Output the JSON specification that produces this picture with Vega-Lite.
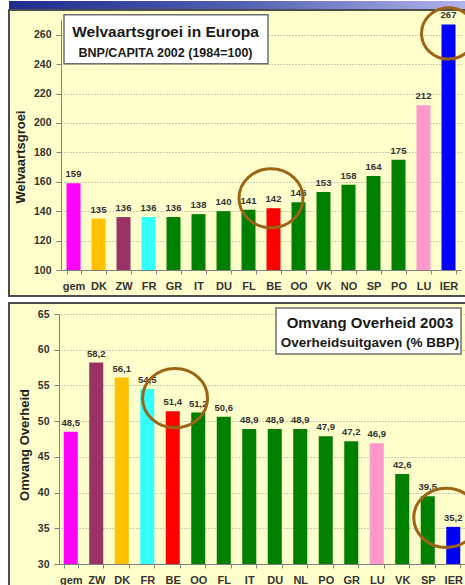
{
  "$schema": "https://vega.github.io/schema/vega-lite/v6.json",
  "background": "white",
  "padding": {"left": 8, "top": 0, "right": 0, "bottom": 0},
  "spacing": 1,
  "bounds": "flush",
  "config": {
    "font": "Liberation Sans",
    "locale": {"number": {"decimal": ",", "thousands": ".", "grouping": [3], "currency": ["€", ""]}},
    "view": {"stroke": null},
    "axis": {
      "labelFont": "Liberation Sans", "labelFontWeight": "bold", "labelColor": "#333333", "labelOverlap": false,
      "titleFont": "Liberation Sans", "titleFontWeight": "bold", "titleColor": "#222222", "titleFontSize": 13,
      "domainColor": "#808080", "tickColor": "#808080", "gridColor": "#9a9a9a", "gridDash": [1, 2], "gridWidth": 1
    }
  },
  "vconcat": [
    {
      "width": 460, "height": 8,
      "data": {"values": [{}]},
      "mark": {"type": "rect", "color": {"gradient": "linear", "x1": 0, "y1": 0, "x2": 1, "y2": 0,
        "stops": [{"offset": 0, "color": "#1E2D8C"}, {"offset": 0.5, "color": "#5060B0"}, {"offset": 1, "color": "#B4B4EC"}]}},
      "encoding": {}
    },
    {
      "spacing": 7,
      "bounds": "flush",
      "resolve": {"scale": {"x": "independent", "y": "independent", "color": "independent"}},
      "vconcat": [
        {
          "width": 460, "height": 286,
          "view": {"fill": "#FFFFCC", "stroke": "#4D4D4D", "strokeWidth": 2},
          "data": {"values": [
            {"land": "gem", "waarde": 159}, {"land": "DK", "waarde": 135}, {"land": "ZW", "waarde": 136},
            {"land": "FR", "waarde": 136}, {"land": "GR", "waarde": 136}, {"land": "IT", "waarde": 138},
            {"land": "DU", "waarde": 140}, {"land": "FL", "waarde": 141}, {"land": "BE", "waarde": 142},
            {"land": "OO", "waarde": 146}, {"land": "VK", "waarde": 153}, {"land": "NO", "waarde": 158},
            {"land": "SP", "waarde": 164}, {"land": "PO", "waarde": 175}, {"land": "LU", "waarde": 212},
            {"land": "IER", "waarde": 267}
          ]},
          "layer": [
            {
              "mark": {"type": "bar"},
              "encoding": {
                "x": {"field": "land", "type": "nominal", "sort": null,
                  "scale": {"domain": ["gem","DK","ZW","FR","GR","IT","DU","FL","BE","OO","VK","NO","SP","PO","LU","IER"],
                    "range": [52, 452], "paddingInner": 0.44, "paddingOuter": 0.22},
                  "axis": {"title": null, "labelAngle": 0, "labelFontSize": 11, "tickBand": "extent", "tickSize": 4,
                    "labelPadding": 6, "offset": -26, "grid": false}},
                "y": {"field": "waarde", "type": "quantitative",
                  "scale": {"domain": [100, 270], "range": [260, 10], "nice": false, "zero": false},
                  "axis": {"title": "Welvaartsgroei", "values": [100,120,140,160,180,200,220,240,260],
                    "labelOverlap": false, "labelSeparation": 0, "tickCount": 9,
                    "labelFontSize": 10.5, "tickSize": 5, "labelPadding": 5, "offset": -52, "grid": true,
                    "titlePadding": 6, "titleY": 146.5}},
                "y2": {"datum": 100},
                "color": {"field": "land", "type": "nominal", "legend": null,
                  "scale": {"domain": ["gem","DK","ZW","FR","GR","IT","DU","FL","BE","OO","VK","NO","SP","PO","LU","IER"],
                    "range": ["#FF00FF","#FFC000","#993366","#33FFFF","#008000","#008000","#008000","#008000","#FF0000","#008000","#008000","#008000","#008000","#008000","#FF99CC","#0000FF"]}}
              }
            },
            {
              "mark": {"type": "text", "baseline": "bottom", "dy": -4, "fontSize": 9.5, "fontWeight": "bold", "color": "#333333"},
              "encoding": {
                "x": {"field": "land", "type": "nominal", "sort": null},
                "y": {"field": "waarde", "type": "quantitative"},
                "text": {"field": "waarde", "type": "quantitative", "format": "d"}
              }
            },
            {
              "transform": [{"filter": "datum.land === 'BE'"}],
              "mark": {"type": "point", "shape": "M -1 0 A 1 0.92 0 1 1 1 0 A 1 0.92 0 1 1 -1 0 Z", "filled": false, "size": 4096,
                "color": "#9C6414", "strokeWidth": 3, "opacity": 1, "xOffset": -2.5, "yOffset": -10},
              "encoding": {"x": {"field": "land", "type": "nominal", "sort": null}, "y": {"field": "waarde", "type": "quantitative"}}
            },
            {
              "transform": [{"filter": "datum.land === 'IER'"}],
              "mark": {"type": "point", "shape": "M -1 0 A 1 0.95 0 1 1 1 0 A 1 0.95 0 1 1 -1 0 Z", "filled": false, "size": 2916,
                "color": "#9C6414", "strokeWidth": 3, "opacity": 1, "yOffset": 9},
              "encoding": {"x": {"field": "land", "type": "nominal", "sort": null}, "y": {"field": "waarde", "type": "quantitative"}}
            },
            {
              "data": {"values": [{}]},
              "mark": {"type": "rect", "fill": "white", "stroke": "#6E6E6E", "strokeWidth": 1.5, "xOffset": -2.5, "x2Offset": -5.5},
              "encoding": {
                "x": {"datum": "gem", "type": "nominal", "bandPosition": 0},
                "x2": {"datum": "BE"},
                "y": {"datum": 273.6, "type": "quantitative"},
                "y2": {"datum": 240.2}
              }
            },
            {
              "data": {"values": [{}]},
              "mark": {"type": "text", "text": "Welvaartsgroei in Europa", "fontSize": 15.5, "fontWeight": "bold", "color": "#1A1A1A", "xOffset": -8},
              "encoding": {"x": {"datum": "GR", "type": "nominal"}, "y": {"datum": 262, "type": "quantitative"}}
            },
            {
              "data": {"values": [{}]},
              "mark": {"type": "text", "text": "BNP/CAPITA 2002 (1984=100)", "fontSize": 12.5, "fontWeight": "bold", "color": "#1A1A1A", "xOffset": -8},
              "encoding": {"x": {"datum": "GR", "type": "nominal"}, "y": {"datum": 247.7, "type": "quantitative"}}
            }
          ]
        },
        {
          "width": 460, "height": 283,
          "view": {"fill": "#FFFFCC", "stroke": "#4D4D4D", "strokeWidth": 2},
          "data": {"values": [
            {"land": "gem", "waarde": 48.5}, {"land": "ZW", "waarde": 58.2}, {"land": "DK", "waarde": 56.1},
            {"land": "FR", "waarde": 54.5}, {"land": "BE", "waarde": 51.4}, {"land": "OO", "waarde": 51.2},
            {"land": "FL", "waarde": 50.6}, {"land": "IT", "waarde": 48.9}, {"land": "DU", "waarde": 48.9},
            {"land": "NL", "waarde": 48.9}, {"land": "PO", "waarde": 47.9}, {"land": "GR", "waarde": 47.2},
            {"land": "LU", "waarde": 46.9}, {"land": "VK", "waarde": 42.6}, {"land": "SP", "waarde": 39.5},
            {"land": "IER", "waarde": 35.2}
          ]},
          "layer": [
            {
              "mark": {"type": "bar"},
              "encoding": {
                "x": {"field": "land", "type": "nominal", "sort": null,
                  "scale": {"domain": ["gem","ZW","DK","FR","BE","OO","FL","IT","DU","NL","PO","GR","LU","VK","SP","IER"],
                    "range": [49, 457], "paddingInner": 0.45, "paddingOuter": 0.225},
                  "axis": {"title": null, "labelAngle": 0, "labelFontSize": 11, "tickBand": "extent", "tickSize": 4,
                    "labelPadding": 6, "offset": -22, "grid": false}},
                "y": {"field": "waarde", "type": "quantitative",
                  "scale": {"domain": [30, 65], "range": [261, 11], "nice": false, "zero": false},
                  "axis": {"title": "Omvang Overheid", "values": [30,35,40,45,50,55,60,65],
                    "labelOverlap": false, "labelSeparation": 0,
                    "labelFontSize": 10.5, "tickSize": 5, "labelPadding": 5, "offset": -50, "grid": true,
                    "titlePadding": 6, "titleY": 141.5}},
                "y2": {"datum": 30},
                "color": {"field": "land", "type": "nominal", "legend": null,
                  "scale": {"domain": ["gem","ZW","DK","FR","BE","OO","FL","IT","DU","NL","PO","GR","LU","VK","SP","IER"],
                    "range": ["#FF00FF","#993366","#FFC000","#33FFFF","#FF0000","#008000","#008000","#008000","#008000","#008000","#008000","#008000","#FF99CC","#008000","#008000","#0000FF"]}}
              }
            },
            {
              "mark": {"type": "text", "baseline": "bottom", "dy": -4, "fontSize": 9.5, "fontWeight": "bold", "color": "#333333"},
              "encoding": {
                "x": {"field": "land", "type": "nominal", "sort": null},
                "y": {"field": "waarde", "type": "quantitative"},
                "text": {"field": "waarde", "type": "quantitative", "format": ".1f"}
              }
            },
            {
              "transform": [{"filter": "datum.land === 'BE'"}],
              "mark": {"type": "point", "shape": "M -1 0 A 1 0.91 0 1 1 1 0 A 1 0.91 0 1 1 -1 0 Z", "filled": false, "size": 4225,
                "color": "#9C6414", "strokeWidth": 3, "opacity": 1, "xOffset": 2.3, "yOffset": -13},
              "encoding": {"x": {"field": "land", "type": "nominal", "sort": null}, "y": {"field": "waarde", "type": "quantitative"}}
            },
            {
              "transform": [{"filter": "datum.land === 'IER'"}],
              "mark": {"type": "point", "shape": "M -1 0 A 1 0.91 0 1 1 1 0 A 1 0.91 0 1 1 -1 0 Z", "filled": false, "size": 4225,
                "color": "#9C6414", "strokeWidth": 3, "opacity": 1, "xOffset": -7, "yOffset": -9},
              "encoding": {"x": {"field": "land", "type": "nominal", "sort": null}, "y": {"field": "waarde", "type": "quantitative"}}
            },
            {
              "data": {"values": [{}]},
              "mark": {"type": "rect", "fill": "white", "stroke": "#6E6E6E", "strokeWidth": 1.5, "xOffset": 8.3, "x2Offset": 7.8},
              "encoding": {
                "x": {"datum": "DU", "type": "nominal", "bandPosition": 0},
                "x2": {"datum": "IER"},
                "y": {"datum": 65.84, "type": "quantitative"},
                "y2": {"datum": 59.4}
              }
            },
            {
              "data": {"values": [{}]},
              "mark": {"type": "text", "text": "Omvang Overheid 2003", "fontSize": 15, "fontWeight": "bold", "color": "#1A1A1A", "xOffset": -6.7},
              "encoding": {"x": {"datum": "LU", "type": "nominal"}, "y": {"datum": 63.74, "type": "quantitative"}}
            },
            {
              "data": {"values": [{}]},
              "mark": {"type": "text", "text": "Overheidsuitgaven (% BBP)", "fontSize": 13.5, "fontWeight": "bold", "color": "#1A1A1A", "xOffset": -6.7},
              "encoding": {"x": {"datum": "LU", "type": "nominal"}, "y": {"datum": 61.0, "type": "quantitative"}}
            }
          ]
        }
      ]
    }
  ]
}
